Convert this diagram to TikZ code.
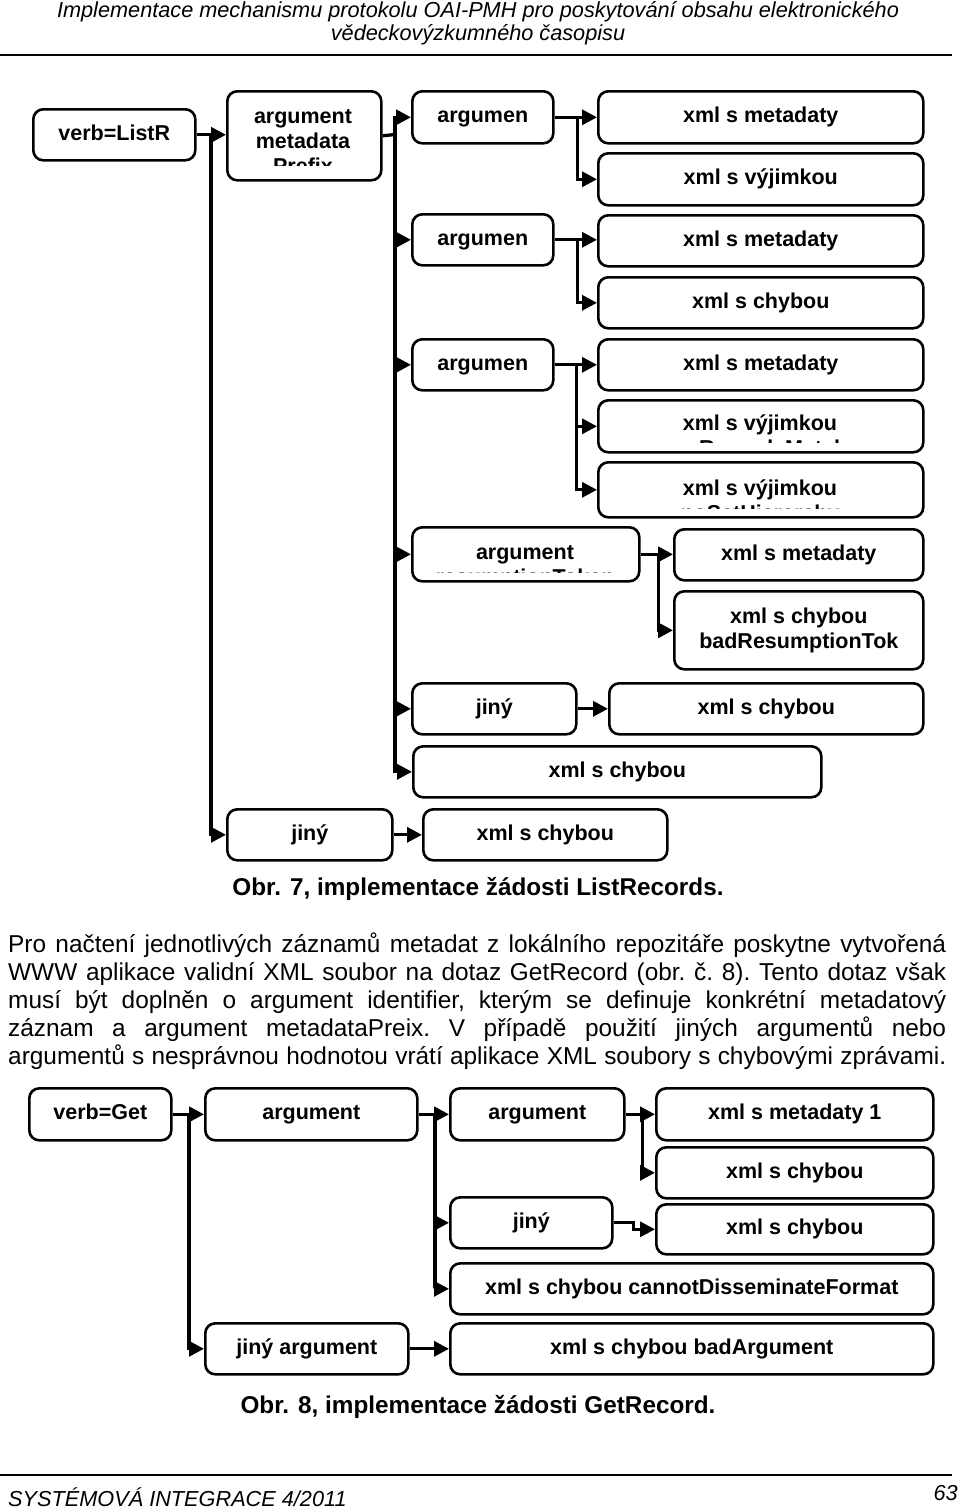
\documentclass[tikz,border=0pt]{standalone}
\usepackage{fontspec}
\setmainfont{Liberation Sans}
\usetikzlibrary{arrows.meta}

\tikzset{
  boxbase/.style={draw, line width=2.6pt, rounded corners=10pt, anchor=north west, inner sep=2pt,
    align=center, font=\fontsize{21.5}{25}\selectfont\bfseries},
  box/.style={boxbase, text height=15.5pt, text depth=4.5pt},
  boxtext/.style={anchor=base, inner sep=0pt, font=\fontsize{21.5}{25}\selectfont\bfseries},
  wh/.style 2 args={minimum width=#1pt, minimum height=#2pt},
  link/.style={line width=3.3pt, -{Triangle[length=15pt,width=15pt]}},
  wire/.style={line width=3.3pt},
  capt/.style={anchor=base, inner sep=0pt, font=\fontsize{24.3}{28}\selectfont\bfseries},
  pagetext/.style={inner sep=0pt, font=\fontsize{21.7}{26}\selectfont\itshape},
}

\begin{document}
\begin{tikzpicture}[x=1pt,y=-1pt]
\useasboundingbox (0,0) rectangle (960,1508);

% page head
\node[pagetext, anchor=base] (head1) at (478,17) {Implementace mechanismu protokolu OAI-PMH pro poskytování obsahu elektronického};
\node[pagetext, anchor=base] (head2) at (478,40) {vědeckovýzkumného časopisu};
\draw[line width=2.4pt] (0,55) -- (952,55);

% ListRecords boxes
\node[box, wh={162}{51}] (lrverb) at (32,108) {verb=ListR};
\node[box, wh={154}{89}] (lrprefix) at (226,90) {};
\node[box, wh={141}{52}] (lrarga) at (411,90) {argumen};
\node[box, wh={325}{52}] (lrmeta1) at (597,90) {xml s metadaty};
\node[box, wh={325}{52}] (lrexc1) at (597,152) {xml s výjimkou};
\node[box, wh={141}{51}] (lrargb) at (411,213) {argumen};
\node[box, wh={325}{51}] (lrmeta2) at (597,214) {xml s metadaty};
\node[box, wh={325}{51}] (lrerr2) at (597,276) {xml s chybou};
\node[box, wh={141}{51}] (lrargc) at (411,338) {argumen};
\node[box, wh={325}{51}] (lrmeta3) at (597,338) {xml s metadaty};
\node[box, wh={325}{52}] (lrexc3a) at (597,399) {};
\node[box, wh={325}{55}] (lrexc3b) at (597,461) {};
\node[box, wh={227}{54}] (lrtoken) at (411,526) {};
\node[box, wh={249}{51}] (lrmeta4) at (673,528) {xml s metadaty};
\node[boxbase, wh={249}{78}] (lrbadtok) at (673,590) {xml s chybou\\badResumptionTok};
\node[box, wh={164}{51}] (lrother) at (411,682) {jiný};
\node[box, wh={314}{51}] (lrerr5) at (608,682) {xml s chybou};
\node[box, wh={408}{51}] (lrerr6) at (412,745) {xml s chybou};
\node[box, wh={165}{51}] (lrelse) at (226,808) {jiný};
\node[box, wh={244}{51}] (lrerr7) at (422,808) {xml s chybou};

% texts cut off by their boxes
\node[boxtext] (lrprefixa) at (303,123) {argument};
\node[boxtext] (lrprefixb) at (303,148) {metadata};
\begin{scope}
  \clip (226,90) rectangle (380,165);
  \node[boxtext] (lrprefixc) at (303,173) {Prefix};
\end{scope}
\node[boxtext] (lrexc3atop) at (760,430) {xml s výjimkou};
\begin{scope}
  \clip (597,399) rectangle (922,442);
  \node[boxtext] (lrexc3abot) at (760,455) {noRecordsMatch};
\end{scope}
\node[boxtext] (lrexc3btop) at (760,495) {xml s výjimkou};
\begin{scope}
  \clip (597,461) rectangle (922,508);
  \node[boxtext] (lrexc3bbot) at (760,520) {noSetHierarchy};
\end{scope}
\node[boxtext] (lrtokentop) at (525,559) {argument};
\begin{scope}
  \clip (411,526) rectangle (638,572);
  \node[boxtext] (lrtokenbot) at (525,584) {resumptionToken};
\end{scope}

% ListRecords links
\coordinate (lrtrunk) at (211,133.5);
\coordinate (lrbus) at (395,134.5);
\draw[link] (lrverb.east) -- (lrverb.east -| lrprefix.west);
\draw[link] (lrtrunk) |- (lrelse.west);
\draw[wire] (lrprefix.east) -- (lrbus);
\foreach \n in {lrarga,lrargb,lrargc,lrtoken,lrother,lrerr6}
  \draw[link] (lrbus) |- (\n.west);
\draw[link] (lrarga.east) -- (lrarga.east -| lrmeta1.west);
\draw[link] (lrarga.east) -- ++(23,0) |- (lrexc1.west);
\draw[link] (lrargb.east) -- (lrargb.east -| lrmeta2.west);
\draw[link] (lrargb.east) -- ++(23,0) |- (lrerr2.west);
\draw[link] (lrargc.east) -- (lrargc.east -| lrmeta3.west);
\draw[link] (lrargc.east) -- ++(22,0) |- (lrexc3a.west);
\draw[link] (lrargc.east) -- ++(22,0) |- (lrexc3b.west);
\draw[link] (lrtoken.east) -- (lrtoken.east -| lrmeta4.west);
\draw[link] (lrtoken.east) -- ++(18,0) |- (lrbadtok.west);
\draw[link] (lrother.east) -- (lrother.east -| lrerr5.west);
\draw[link] (lrelse.east) -- (lrelse.east -| lrerr7.west);

\node[capt] (cap7) at (478,895) {Obr. 7, implementace žádosti ListRecords.};

% paragraph
\node[anchor=base west, inner sep=0pt] (bodytext) at (8,952) {\parbox[t]{938pt}{\fontsize{24.4}{28}\selectfont\frenchspacing\parfillskip=0pt\relax
Pro načtení jednotlivých záznamů metadat z lokálního repozitáře poskytne vytvořená\linebreak
WWW aplikace validní XML soubor na dotaz GetRecord (obr. č. 8). Tento dotaz však\linebreak
musí být doplněn o argument identifier, kterým se definuje konkrétní metadatový\linebreak
záznam a argument metadataPreix. V případě použití jiných argumentů nebo\linebreak
argumentů s nesprávnou hodnotou vrátí aplikace XML soubory s chybovými zprávami.}};

% GetRecord boxes
\node[box, wh={142}{52}] (grverb) at (28,1087) {verb=Get};
\node[box, wh={212}{52}] (grid) at (204,1087) {argument};
\node[box, wh={174}{52}] (grprefix) at (449,1087) {argument};
\node[box, wh={277}{52}] (grmeta) at (655,1087) {xml s metadaty 1};
\node[box, wh={277}{51}] (grerr1) at (655,1146) {xml s chybou};
\node[box, wh={162}{51}] (grother) at (449,1196) {jiný};
\node[box, wh={277}{50}] (grerr2) at (655,1203) {xml s chybou};
\node[box, wh={483}{51}] (grformat) at (449,1262) {xml s chybou cannotDisseminateFormat};
\node[box, wh={203}{51}] (grbadarg) at (204,1322) {jiný argument};
\node[box, wh={483}{51}] (grbadmsg) at (449,1322) {xml s chybou badArgument};

% GetRecord links
\coordinate (grtrunk) at (189,1113);
\coordinate (grbus) at (435,1113);
\draw[link] (grverb.east) -- (grverb.east -| grid.west);
\draw[link] (grtrunk) |- (grbadarg.west);
\draw[link] (grid.east) -- (grid.east -| grprefix.west);
\draw[link] (grbus) |- (grother.west);
\draw[link] (grbus) |- (grformat.west);
\draw[link] (grprefix.east) -- (grprefix.east -| grmeta.west);
\draw[link] (grprefix.east) -- ++(17,0) |- (grerr1.west);
\draw[link] (grother.east) -- ++(20,0) |- (grerr2.west);
\draw[link] (grbadarg.east) -- (grbadarg.east -| grbadmsg.west);

\node[capt] (cap8) at (478,1413) {Obr. 8, implementace žádosti GetRecord.};

% page foot
\draw[line width=2.2pt] (0,1475) -- (952,1475);
\node[pagetext, anchor=base west] (foot) at (8,1506) {SYSTÉMOVÁ INTEGRACE 4/2011};
\node[pagetext, anchor=base east] (pageno) at (958,1500) {63};
\end{tikzpicture}
\end{document}
